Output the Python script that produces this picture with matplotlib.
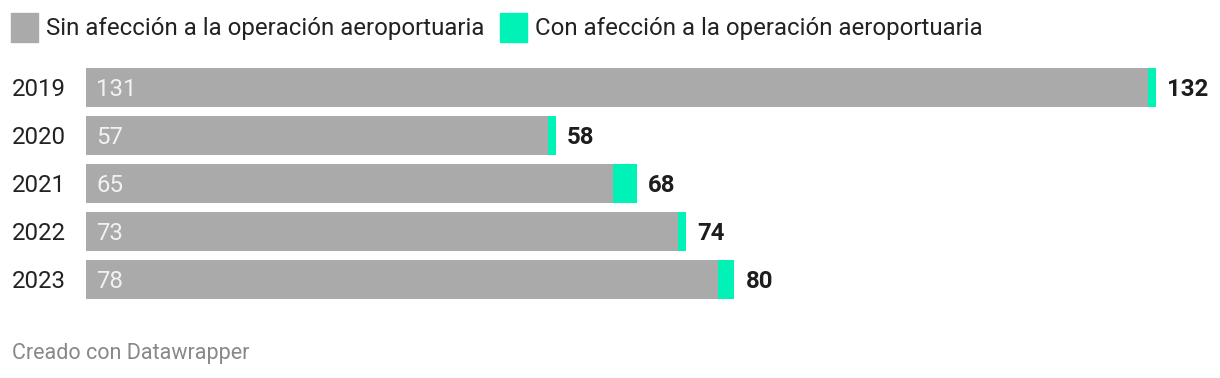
import matplotlib
matplotlib.use("Agg")
import matplotlib.pyplot as plt
from matplotlib.patches import Rectangle

years = ["2019", "2020", "2021", "2022", "2023"]
sin_afeccion = [131, 57, 65, 73, 78]
con_afeccion = [1, 1, 3, 1, 2]
totales = [132, 58, 68, 74, 80]

GRAY = "#aaaaaa"
GREEN = "#00f2b6"
W, H = 1220, 378
FS = 17.3

plt.rcParams["font.family"] = ["Roboto", "DejaVu Sans"]

fig = plt.figure(figsize=(W / 100, H / 100), dpi=100)
x0, x1 = 86, 1213
top, bot = 63.5, 303.5
ax = fig.add_axes([x0 / W, 1 - bot / H, (x1 - x0) / W, (bot - top) / H])
xmax = 132 * (x1 - x0) / (1156 - x0)
px = xmax / (x1 - x0)
dy = 2 / 48  # nudge text down a couple of pixels
ax.set_xlim(0, xmax)
ax.set_ylim(len(years) - 0.5, -0.5)
ax.axis("off")

pos = list(range(len(years)))
ax.barh(pos, sin_afeccion, height=0.8125, color=GRAY)
ax.barh(pos, con_afeccion, left=sin_afeccion, height=0.8125, color=GREEN)

for i, y in enumerate(years):
    ax.text(-74 * px, i + dy, y, ha="left", va="center",
            fontsize=FS, color="#222222", clip_on=False)
    ax.text(10 * px, i + dy, str(sin_afeccion[i]), ha="left",
            va="center", fontsize=FS, color="#f2f2f2")
    ax.text(totales[i] + 11 * px, i + dy, str(totales[i]),
            ha="left", va="center", fontsize=FS, fontweight="bold",
            color="#1d1d1d", clip_on=False)

# legend
for xs, col, label in [(11, GRAY, "Sin afección a la operación aeroportuaria"),
                       (500, GREEN, "Con afección a la operación aeroportuaria")]:
    fig.patches.append(Rectangle((xs / W, 1 - 42 / H), 27 / W, 29 / H,
                                 transform=fig.transFigure, color=col))
    fig.text((xs + 35) / W, 1 - 28.5 / H, label, ha="left", va="center",
             fontsize=FS, color="#222222")

fig.text(12 / W, 1 - 354 / H, "Creado con Datawrapper", ha="left",
         va="center", fontsize=15.5, color="#888888")

fig.savefig("out.png", dpi=100)
